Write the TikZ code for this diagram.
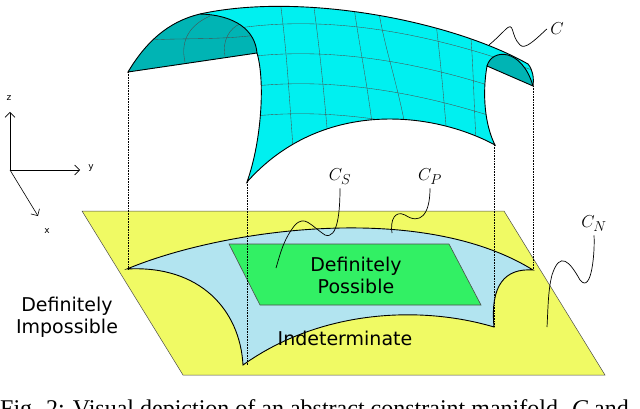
\documentclass[tikz,border=0pt]{standalone}
\usepackage{fontspec}
\newfontfamily\djsans{DejaVu Sans}
\newfontfamily\tnr{Liberation Serif}
\usetikzlibrary{arrows.meta,decorations.pathmorphing}
\definecolor{cyanf}{RGB}{0,240,240}
\definecolor{capf}{RGB}{0,180,180}
\definecolor{planef}{RGB}{240,250,100}
\definecolor{bluef}{RGB}{178,228,240}
\definecolor{greenf}{RGB}{50,240,100}
\tikzset{
  edge/.style={line width=0.9pt},
  gridl/.style={draw=black!70, line width=0.35pt},
  proj/.style={densely dotted, line width=0.6pt},
  lead/.style={line width=0.7pt},
  lbl/.style={font=\djsans\fontsize{19}{22}\selectfont, align=center},
  mlbl/.style={font=\fontsize{19}{22}\selectfont},
  ax/.style={-{Straight Barb[length=5pt]}, line width=0.6pt},
  axl/.style={font=\djsans\fontsize{9}{10}\selectfont}
}
\begin{document}
\begin{tikzpicture}[x=1pt,y=-1pt]
\useasboundingbox (0,0) rectangle (640,409);
% plane
\filldraw[fill=planef, draw=black!70, line width=0.5pt] (82,211) -- (504,211) -- (605,375) -- (183,375) -- cycle;
% blue region
\filldraw[fill=bluef, edge] (127,269) .. controls (220,230) and (420,200) .. (533,270)
  .. controls (505,268) and (490,285) .. (494,327)
  .. controls (420,305) and (320,310) .. (243,365)
  .. controls (240,310) and (200,265) .. (127,269) -- cycle;
% green
\filldraw[fill=greenf, draw=black!70, line width=0.6pt] (229,244) -- (449,244) -- (481,305) -- (260,305) -- cycle;
% projections
\draw[proj] (128,72) -- (128,269);
\draw[proj] (247,182) -- (247,365);
\draw[proj] (494,145) -- (494,327);
\draw[proj] (533,86) -- (533,270);
% surface
\path[fill=cyanf] (128,72) .. controls (150,35) and (175,20) .. (200,14)
  .. controls (300,-8) and (450,20) .. (528,64) .. controls (533,70) and (534,78) .. (533,86)
  -- (487,66) .. controls (482,95) and (485,125) .. (495,145)
  .. controls (430,110) and (320,100) .. (247,182)
  .. controls (262,140) and (265,80) .. (257,53) -- cycle;
\begin{scope}
\clip (128,72) .. controls (150,35) and (175,20) .. (200,14)
  .. controls (300,-8) and (450,20) .. (528,64) .. controls (533,70) and (534,78) .. (533,86)
  -- (487,66) .. controls (482,95) and (485,125) .. (495,145)
  .. controls (430,110) and (320,100) .. (247,182)
  .. controls (262,140) and (265,80) .. (257,53) -- cycle;
\foreach \a/\b in {280/297, 313/333, 353/380, 377/415, 433/452, 467/480}
  \draw[gridl] (\a,0) .. controls (\a+8,60) and (\b-8,100) .. (\b,200);
\foreach \y in {33, 63, 93, 123}
  \draw[gridl] (190,\y+5) .. controls (300,\y-25) and (420,\y-5) .. (540,\y+40);
% caps
\fill[capf] (128,72) .. controls (150,35) and (175,20) .. (200,14)
  .. controls (235,15) and (255,30) .. (257,53) -- cycle;
\fill[capf] (487,66) .. controls (492,48) and (522,48) .. (533,86) -- cycle;
\end{scope}
\begin{scope}
\clip (128,72) .. controls (150,35) and (175,20) .. (200,14)
  .. controls (235,15) and (255,30) .. (257,53) -- cycle;
\draw[gridl] (185,62) .. controls (180,40) and (190,25) .. (210,16);
\draw[gridl] (225,56) .. controls (222,40) and (230,28) .. (240,24);
\draw[gridl] (150,40) .. controls (180,38) and (220,40) .. (257,35);
\end{scope}
\draw[edge] (128,72) .. controls (150,35) and (175,20) .. (200,14)
  .. controls (300,-8) and (450,20) .. (528,64) .. controls (533,70) and (534,78) .. (533,86)
  -- (487,66) .. controls (482,95) and (485,125) .. (495,145)
  .. controls (430,110) and (320,100) .. (247,182)
  .. controls (262,140) and (265,80) .. (257,53) -- cycle;
\draw[edge] (200,14) .. controls (235,15) and (255,30) .. (257,53);
\draw[edge] (487,66) .. controls (492,48) and (522,48) .. (533,86);
% labels
\node[lbl] (dp) at (356,275) {Definitely\\Possible};
\node[lbl] (di) at (67,317) {Definitely\\Impossible};
\node[lbl, inner sep=1pt] (ind) at (345,338) {Indeterminate};
\node[mlbl] (c) at (557,29) {$C$};
\node[mlbl] (cs) at (340,177) {$C_S$};
\node[mlbl] (cp) at (430,177) {$C_P$};
\node[mlbl] (cn) at (594,224) {$C_N$};
\coordinate (ce) at (489,45);
\coordinate (cse) at (276,268);
\coordinate (cpe) at (392,233);
\coordinate (cne) at (547,327);
\draw[lead] (c.west) .. controls (535,40) and (525,50) .. (520,45) .. controls (510,35) and (515,20) .. (505,30) .. controls (500,35) and (495,40) .. (ce);
\draw[lead] (cs.south) .. controls (340,210) and (338,240) .. (325,235) .. controls (310,225) and (305,215) .. (295,225) .. controls (283,240) and (280,255) .. (cse);
\draw[lead] (cp.south) .. controls (430,215) and (420,225) .. (405,215) .. controls (395,210) and (390,220) .. (cpe);
\draw[lead] (cn.south) .. controls (595,250) and (592,295) .. (580,280) .. controls (570,262) and (560,250) .. (552,275) .. controls (548,290) and (548,310) .. (cne);
% axes
\coordinate (o) at (10,170);
\coordinate (zt) at (10,112);
\coordinate (yt) at (80,170);
\coordinate (xt) at (38,216);
\draw[ax] (o) -- (zt);
\draw[ax] (o) -- (yt);
\draw[ax] (o) -- (xt);
\node[axl] (zl) at (9,98) {z};
\node[axl] (yl) at (91,168) {y};
\node[axl] (xl) at (47,231) {x};
% caption
\node[anchor=north west, inner sep=0pt, font=\tnr\fontsize{24}{28}\selectfont] (cap) at (0,399) {Fig. 2: Visual depiction of an abstract constraint manifold. \textit{C} and};
\end{tikzpicture}
\end{document}
